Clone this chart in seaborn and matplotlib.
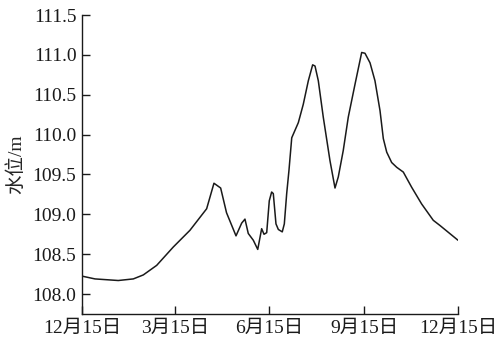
import matplotlib
matplotlib.use("Agg")
import matplotlib.pyplot as plt
import seaborn as sns
import pandas as pd

# day index counted from Dec 15
days = [0, 12.6, 35.2, 49.8, 59.5, 72.5, 88.6, 104.8, 121, 128.1, 134.6, 140.3,
        149.5, 155, 158.2, 161.4, 166.3, 170.6, 174.4, 176.7, 179.3, 181.8, 184.1,
        185.7, 188.3, 190.6, 194.4, 196.4, 198.7, 200.9, 203.6, 210, 214.8, 219.7,
        223.9, 226.2, 229.4, 234.2, 240.7, 245.6, 248.8, 253.6, 258.5, 265, 271.5,
        274.7, 279.6, 284.4, 289.3, 292.5, 295.8, 300.6, 305.5, 311.9, 320, 329.7,
        341, 347.5, 365]
levels = [108.225, 108.19, 108.17, 108.19, 108.24, 108.36, 108.59, 108.8, 109.07,
          109.39, 109.33, 109.02, 108.73, 108.89, 108.94, 108.76, 108.675, 108.56,
          108.82, 108.75, 108.77, 109.17, 109.28, 109.26, 108.88, 108.81, 108.78,
          108.88, 109.26, 109.55, 109.96, 110.15, 110.38, 110.675, 110.875, 110.86,
          110.675, 110.22, 109.675, 109.33, 109.47, 109.8, 110.22, 110.63, 111.03,
          111.02, 110.9, 110.675, 110.3, 109.95, 109.78, 109.65, 109.59, 109.53,
          109.34, 109.13, 108.925, 108.86, 108.675]
tick_days = [0, 90, 182, 274, 365]
tick_labels = ["12月15日", "3月15日", "6月15日", "9月15日", "12月15日"]
y_ticks = [108.0, 108.5, 109.0, 109.5, 110.0, 110.5, 111.0, 111.5]

sns.set_style("ticks")
plt.rcParams["font.family"] = ["Liberation Serif", "Noto Sans CJK SC"]
plt.rcParams["axes.unicode_minus"] = False

df = pd.DataFrame({"day": days, "level": levels})

fig = plt.figure(figsize=(4.97, 3.40), dpi=100)
ax = fig.add_axes([82/497, 1-314/340, (458-82)/497, (314-15)/340])
sns.lineplot(data=df, x="day", y="level", ax=ax, color="#1a1a1a", linewidth=1.1)

ax.set_xlim(0, 365)
ax.set_ylim(107.75, 111.5)
ax.set_xticks(tick_days)
ax.set_xticklabels(tick_labels)
ax.set_yticks(y_ticks)
ax.set_yticklabels([f"{v:.1f}" for v in y_ticks])
ax.set_xlabel("")
ax.set_ylabel("水位/m", fontsize=14, labelpad=5)
ax.tick_params(direction="in", length=5.5, width=1.0, labelsize=14, colors="#1a1a1a", pad=4)
for s in ["top", "right"]:
    ax.spines[s].set_visible(False)
for s in ["left", "bottom"]:
    ax.spines[s].set_linewidth(1.0)
    ax.spines[s].set_color("#1a1a1a")

fig.savefig("out.png", dpi=100)
